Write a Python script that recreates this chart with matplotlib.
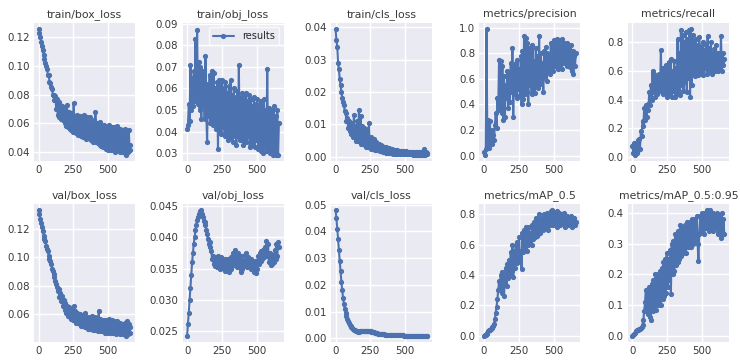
import matplotlib
matplotlib.use("Agg")
import matplotlib.pyplot as plt
from matplotlib.ticker import MultipleLocator
import seaborn as sns
import numpy as np

epochs = list(range(0, 661, 6))

titles = ["train/box_loss", "train/obj_loss", "train/cls_loss", "metrics/precision", "metrics/recall",
          "val/box_loss", "val/obj_loss", "val/cls_loss", "metrics/mAP_0.5", "metrics/mAP_0.5:0.95"]

train_box_loss = [
    0.126, 0.123, 0.120, 0.117, 0.114, 0.111, 0.108, 0.105, 0.102, 0.100,
    0.098, 0.094, 0.094, 0.089, 0.088, 0.085, 0.084, 0.080, 0.080, 0.076,
    0.079, 0.070, 0.077, 0.066, 0.075, 0.064, 0.073, 0.063, 0.072, 0.062,
    0.070, 0.060, 0.071, 0.058, 0.073, 0.057, 0.068, 0.056, 0.066, 0.055,
    0.067, 0.054, 0.074, 0.055, 0.065, 0.053, 0.066, 0.052, 0.064, 0.053,
    0.065, 0.051, 0.063, 0.050, 0.066, 0.052, 0.062, 0.049, 0.064, 0.050,
    0.061, 0.049, 0.064, 0.048, 0.060, 0.047, 0.062, 0.049, 0.068, 0.047,
    0.060, 0.046, 0.058, 0.045, 0.061, 0.044, 0.057, 0.043, 0.059, 0.044,
    0.058, 0.042, 0.056, 0.041, 0.059, 0.043, 0.055, 0.041, 0.057, 0.042,
    0.057, 0.040, 0.055, 0.042, 0.058, 0.041, 0.054, 0.040, 0.056, 0.041,
    0.055, 0.040, 0.053, 0.039, 0.056, 0.038, 0.054, 0.040, 0.055, 0.041,
    0.045]

train_obj_loss = [
    0.041, 0.043, 0.053, 0.045, 0.071, 0.050, 0.065, 0.052, 0.068, 0.054,
    0.083, 0.056, 0.087, 0.053, 0.072, 0.050, 0.070, 0.046, 0.068, 0.052,
    0.066, 0.046, 0.075, 0.048, 0.035, 0.062, 0.047, 0.066, 0.044, 0.061,
    0.068, 0.043, 0.067, 0.045, 0.060, 0.041, 0.063, 0.032, 0.064, 0.040,
    0.062, 0.039, 0.064, 0.042, 0.060, 0.038, 0.063, 0.040, 0.058, 0.036,
    0.061, 0.037, 0.064, 0.039, 0.057, 0.035, 0.060, 0.038, 0.056, 0.034,
    0.059, 0.038, 0.071, 0.036, 0.056, 0.037, 0.058, 0.034, 0.055, 0.036,
    0.058, 0.035, 0.054, 0.038, 0.057, 0.033, 0.055, 0.035, 0.052, 0.034,
    0.056, 0.033, 0.053, 0.036, 0.055, 0.032, 0.051, 0.034, 0.054, 0.031,
    0.052, 0.030, 0.055, 0.033, 0.050, 0.031, 0.069, 0.032, 0.051, 0.030,
    0.050, 0.031, 0.048, 0.029, 0.052, 0.030, 0.047, 0.029, 0.050, 0.029,
    0.044]

train_cls_loss = [
    0.0395, 0.036, 0.034, 0.029, 0.027, 0.024, 0.022, 0.020, 0.018, 0.017,
    0.016, 0.014, 0.0135, 0.011, 0.012, 0.009, 0.011, 0.008, 0.0105, 0.007,
    0.010, 0.006, 0.013, 0.006, 0.0095, 0.005, 0.011, 0.005, 0.0145, 0.005,
    0.0125, 0.004, 0.0095, 0.004, 0.009, 0.0035, 0.0085, 0.003, 0.008, 0.003,
    0.0105, 0.003, 0.006, 0.0025, 0.005, 0.0025, 0.0055, 0.002, 0.0045, 0.002,
    0.004, 0.002, 0.0038, 0.0018, 0.0035, 0.0017, 0.0032, 0.0015, 0.003, 0.0014,
    0.003, 0.0013, 0.0028, 0.0012, 0.0026, 0.0012, 0.0025, 0.0011, 0.0023, 0.001,
    0.0022, 0.001, 0.0021, 0.0009, 0.002, 0.0009, 0.0019, 0.0009, 0.0018, 0.0009,
    0.0018, 0.0008, 0.0017, 0.0008, 0.0017, 0.0008, 0.0016, 0.0008, 0.0016, 0.0008,
    0.0016, 0.0008, 0.0015, 0.0007, 0.0015, 0.0007, 0.0015, 0.0007, 0.0014, 0.0007,
    0.0015, 0.0007, 0.0014, 0.0007, 0.0016, 0.0007, 0.0023, 0.0007, 0.0015, 0.0008,
    0.0012]

precision = [
    0.03, 0.01, 0.05, 0.99, 0.08, 0.28, 0.06, 0.27, 0.10, 0.20,
    0.09, 0.16, 0.12, 0.24, 0.33, 0.22, 0.45, 0.36, 0.75, 0.38,
    0.74, 0.33, 0.70, 0.28, 0.62, 0.30, 0.55, 0.45, 0.66, 0.37,
    0.64, 0.42, 0.72, 0.50, 0.84, 0.30, 0.70, 0.48, 0.72, 0.45,
    0.75, 0.52, 0.68, 0.47, 0.78, 0.40, 0.82, 0.44, 0.93, 0.48,
    0.92, 0.50, 0.88, 0.40, 0.84, 0.55, 0.80, 0.48, 0.86, 0.52,
    0.74, 0.49, 0.84, 0.55, 0.78, 0.53, 0.93, 0.56, 0.80, 0.60,
    0.72, 0.50, 0.82, 0.62, 0.85, 0.58, 0.80, 0.66, 0.78, 0.64,
    0.88, 0.68, 0.84, 0.66, 0.90, 0.70, 0.86, 0.72, 0.91, 0.68,
    0.90, 0.70, 0.86, 0.68, 0.91, 0.72, 0.88, 0.74, 0.85, 0.70,
    0.88, 0.71, 0.84, 0.69, 0.86, 0.66, 0.82, 0.64, 0.78, 0.70,
    0.80]

recall = [
    0.08, 0.03, 0.10, 0.02, 0.09, 0.03, 0.12, 0.05, 0.13, 0.06,
    0.18, 0.15, 0.25, 0.22, 0.34, 0.26, 0.36, 0.28, 0.37, 0.33,
    0.45, 0.36, 0.50, 0.40, 0.60, 0.45, 0.58, 0.42, 0.55, 0.44,
    0.56, 0.45, 0.58, 0.47, 0.74, 0.46, 0.62, 0.44, 0.60, 0.45,
    0.64, 0.42, 0.62, 0.45, 0.66, 0.43, 0.68, 0.42, 0.60, 0.46,
    0.67, 0.42, 0.62, 0.44, 0.82, 0.46, 0.72, 0.43, 0.88, 0.50,
    0.85, 0.46, 0.80, 0.52, 0.87, 0.45, 0.82, 0.55, 0.88, 0.42,
    0.89, 0.50, 0.85, 0.58, 0.80, 0.56, 0.82, 0.60, 0.78, 0.57,
    0.83, 0.58, 0.76, 0.60, 0.80, 0.57, 0.74, 0.62, 0.78, 0.58,
    0.84, 0.60, 0.76, 0.62, 0.80, 0.58, 0.72, 0.62, 0.75, 0.60,
    0.78, 0.61, 0.72, 0.60, 0.70, 0.62, 0.84, 0.60, 0.72, 0.64,
    0.68]

val_box_loss = [
    0.133, 0.130, 0.127, 0.124, 0.121, 0.118, 0.115, 0.113, 0.111, 0.108,
    0.106, 0.104, 0.101, 0.099, 0.097, 0.095, 0.092, 0.090, 0.088, 0.086,
    0.083, 0.081, 0.079, 0.076, 0.078, 0.072, 0.075, 0.069, 0.073, 0.066,
    0.070, 0.063, 0.068, 0.061, 0.066, 0.059, 0.065, 0.058, 0.064, 0.057,
    0.063, 0.056, 0.066, 0.055, 0.062, 0.054, 0.061, 0.054, 0.060, 0.053,
    0.060, 0.052, 0.059, 0.052, 0.058, 0.051, 0.061, 0.051, 0.058, 0.050,
    0.058, 0.050, 0.057, 0.050, 0.059, 0.049, 0.056, 0.049, 0.058, 0.049,
    0.057, 0.048, 0.062, 0.049, 0.057, 0.048, 0.056, 0.048, 0.055, 0.047,
    0.056, 0.048, 0.055, 0.047, 0.057, 0.048, 0.054, 0.047, 0.056, 0.047,
    0.055, 0.047, 0.054, 0.046, 0.055, 0.047, 0.053, 0.046, 0.054, 0.047,
    0.053, 0.046, 0.052, 0.046, 0.054, 0.045, 0.055, 0.046, 0.053, 0.047,
    0.051]

val_obj_loss = [
    0.0243, 0.0262, 0.0280, 0.0300, 0.0320, 0.0340, 0.0360, 0.0375, 0.0390, 0.0400,
    0.0412, 0.0420, 0.0428, 0.0433, 0.0437, 0.0440, 0.0443, 0.0444, 0.0437, 0.0432,
    0.0427, 0.0420, 0.0425, 0.0412, 0.0405, 0.0398, 0.0390, 0.0392, 0.0385, 0.0378,
    0.0365, 0.0370, 0.0358, 0.0368, 0.0355, 0.0362, 0.0352, 0.0370, 0.0356, 0.0365,
    0.0350, 0.0368, 0.0355, 0.0362, 0.0350, 0.0365, 0.0347, 0.0360, 0.0352, 0.0365,
    0.0345, 0.0362, 0.0350, 0.0368, 0.0355, 0.0375, 0.0358, 0.0380, 0.0360, 0.0372,
    0.0352, 0.0375, 0.0355, 0.0368, 0.0345, 0.0370, 0.0350, 0.0362, 0.0355, 0.0372,
    0.0360, 0.0375, 0.0352, 0.0368, 0.0355, 0.0365, 0.0350, 0.0366, 0.0352, 0.0362,
    0.0345, 0.0360, 0.0343, 0.0362, 0.0350, 0.0370, 0.0358, 0.0375, 0.0362, 0.0378,
    0.0365, 0.0380, 0.0368, 0.0385, 0.0370, 0.0394, 0.0372, 0.0390, 0.0360, 0.0375,
    0.0356, 0.0368, 0.0358, 0.0372, 0.0360, 0.0380, 0.0365, 0.0390, 0.0370, 0.0392,
    0.0385]

val_cls_loss = [
    0.048, 0.045, 0.041, 0.037, 0.033, 0.029, 0.025, 0.021, 0.018, 0.015,
    0.013, 0.011, 0.0095, 0.0082, 0.0072, 0.0063, 0.0056, 0.0050, 0.0045, 0.0041,
    0.0038, 0.0035, 0.0032, 0.0030, 0.0028, 0.0027, 0.0026, 0.0025, 0.0025, 0.0026,
    0.0027, 0.0028, 0.0028, 0.0029, 0.0028, 0.0029, 0.0028, 0.0027, 0.0028, 0.0027,
    0.0027, 0.0026, 0.0026, 0.0025, 0.0024, 0.0023, 0.0022, 0.0021, 0.0021, 0.0020,
    0.0019, 0.0018, 0.0018, 0.0017, 0.0016, 0.0016, 0.0015, 0.0015, 0.0015, 0.0014,
    0.0014, 0.0014, 0.0013, 0.0013, 0.0013, 0.0013, 0.0012, 0.0012, 0.0012, 0.0012,
    0.0012, 0.0012, 0.0011, 0.0011, 0.0011, 0.0011, 0.0011, 0.0011, 0.0011, 0.0011,
    0.0011, 0.0011, 0.0010, 0.0010, 0.0010, 0.0010, 0.0010, 0.0010, 0.0010, 0.0010,
    0.0010, 0.0010, 0.0010, 0.0010, 0.0010, 0.0010, 0.0010, 0.0010, 0.0010, 0.0010,
    0.0010, 0.0010, 0.0010, 0.0010, 0.0010, 0.0010, 0.0010, 0.0010, 0.0010, 0.0010,
    0.0010]

map50 = [
    0.000, 0.005, 0.002, 0.010, 0.020, 0.030, 0.035, 0.040, 0.045, 0.050,
    0.055, 0.065, 0.080, 0.110, 0.150, 0.190, 0.240, 0.300, 0.360, 0.310,
    0.400, 0.280, 0.420, 0.330, 0.260, 0.400, 0.450, 0.330, 0.470, 0.380,
    0.500, 0.400, 0.550, 0.430, 0.600, 0.390, 0.560, 0.450, 0.600, 0.480,
    0.620, 0.500, 0.650, 0.520, 0.560, 0.440, 0.680, 0.550, 0.700, 0.580,
    0.720, 0.560, 0.700, 0.600, 0.720, 0.620, 0.680, 0.600, 0.730, 0.640,
    0.750, 0.650, 0.780, 0.660, 0.770, 0.670, 0.800, 0.680, 0.760, 0.700,
    0.780, 0.700, 0.800, 0.710, 0.790, 0.720, 0.810, 0.700, 0.800, 0.730,
    0.820, 0.740, 0.830, 0.730, 0.810, 0.750, 0.800, 0.720, 0.820, 0.740,
    0.810, 0.730, 0.800, 0.750, 0.790, 0.740, 0.810, 0.720, 0.790, 0.750,
    0.790, 0.730, 0.780, 0.740, 0.790, 0.720, 0.770, 0.730, 0.780, 0.730,
    0.750]

map50_95 = [
    0.000, 0.003, 0.006, 0.010, 0.014, 0.017, 0.019, 0.020, 0.021, 0.022,
    0.024, 0.028, 0.035, 0.050, 0.080, 0.110, 0.150, 0.080, 0.140, 0.070,
    0.160, 0.060, 0.050, 0.170, 0.080, 0.180, 0.090, 0.200, 0.085, 0.190,
    0.100, 0.200, 0.110, 0.210, 0.100, 0.220, 0.120, 0.240, 0.130, 0.250,
    0.140, 0.270, 0.160, 0.250, 0.180, 0.280, 0.135, 0.300, 0.200, 0.310,
    0.210, 0.330, 0.230, 0.320, 0.240, 0.340, 0.250, 0.360, 0.260, 0.350,
    0.270, 0.350, 0.280, 0.360, 0.270, 0.370, 0.290, 0.360, 0.300, 0.370,
    0.290, 0.380, 0.300, 0.370, 0.310, 0.380, 0.320, 0.390, 0.300, 0.245,
    0.330, 0.390, 0.340, 0.400, 0.350, 0.390, 0.330, 0.400, 0.350, 0.410,
    0.360, 0.400, 0.340, 0.410, 0.350, 0.390, 0.340, 0.400, 0.360, 0.390,
    0.350, 0.400, 0.330, 0.390, 0.340, 0.380, 0.320, 0.400, 0.330, 0.380,
    0.330]

series = [train_box_loss, train_obj_loss, train_cls_loss, precision, recall,
          val_box_loss, val_obj_loss, val_cls_loss, map50, map50_95]

sns.set_style("darkgrid")
plt.rcParams["font.family"] = ["DejaVu Sans"]
plt.rcParams["axes.facecolor"] = "#EAEAF2"
text_col = "#3a3a3a"

fig, axes = plt.subplots(2, 5, figsize=(7.4, 3.63), dpi=100)
fig.subplots_adjust(left=0.046, right=0.985, top=0.938, bottom=0.058, wspace=0.47, hspace=0.31)

for i, ax in enumerate(axes.flat):
    ax.plot(epochs, series[i], marker=".", color="#4C72B0", linewidth=1.5, markersize=5.5, label="results")
    ax.set_title(titles[i], fontsize=7.8, color=text_col, pad=4)
    ax.set_xticks([0, 250, 500])
    ax.tick_params(axis="both", labelsize=7.4, colors=text_col, length=0, pad=3)
    ax.grid(True, color="white", linewidth=1.0)
    for s in ax.spines.values():
        s.set_visible(False)
    if i == 1:
        ax.yaxis.set_major_locator(MultipleLocator(0.01))
        ax.set_ylim(0.0265, 0.0905)
        ax.legend(loc="upper right", fontsize=7, frameon=True, facecolor="#EAEAF2",
                  edgecolor="white", handlelength=2.2, borderpad=0.4)

fig.savefig("out.png", dpi=100)
